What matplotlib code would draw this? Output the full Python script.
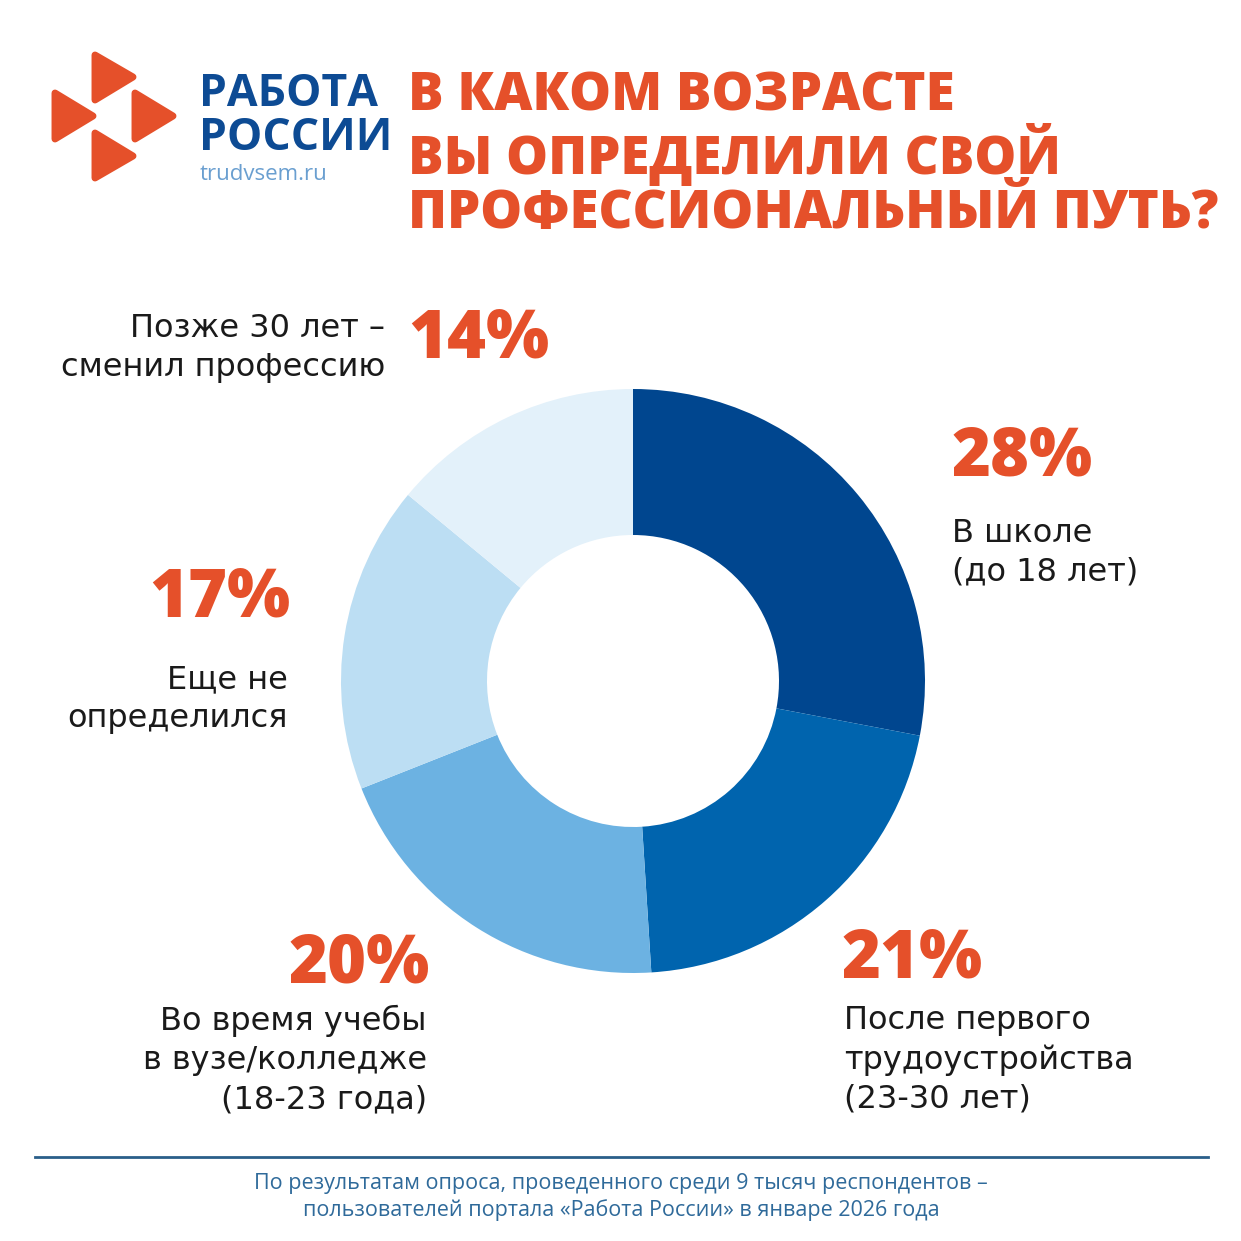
import matplotlib.pyplot as plt
from matplotlib.patches import Polygon

# data
labels = ["В школе\n(до 18 лет)",
          "После первого\nтрудоустройства\n(23-30 лет)",
          "Во время учебы\nв вузе/колледже\n(18-23 года)",
          "Еще не\nопределился",
          "Позже 30 лет –\nсменил профессию"]
shares = [28, 21, 20, 17, 14]
colors = ["#00468f", "#0064ae", "#6cb2e2", "#bcdef3", "#e3f1fa"]

title = "В КАКОМ ВОЗРАСТЕ\nВЫ ОПРЕДЕЛИЛИ СВОЙ\nПРОФЕССИОНАЛЬНЫЙ ПУТЬ?"
footer = ("По результатам опроса, проведенного среди 9 тысяч респондентов –\n"
          "пользователей портала «Работа России» в январе 2026 года")

ORANGE = "#e5502a"
BLUE = "#0d4b94"
H = 1241

def Y(v):
    return H - v

plt.rcParams['font.family'] = ['Open Sans', 'DejaVu Sans']

fig = plt.figure(figsize=(12.41, 12.41), dpi=100)
ax = fig.add_axes([0, 0, 1, 1])

ax.pie(shares, colors=colors, startangle=90, counterclock=False,
       center=(633, Y(681)), radius=292,
       wedgeprops=dict(width=146, edgecolor='none'))
ax.set_xlim(0, H)
ax.set_ylim(0, H)
ax.set_aspect('equal')
ax.axis('off')

# logo triangles
tris = [[(95, 55), (95, 100), (133, 77)],
        [(55, 93), (55, 139), (93, 116)],
        [(135, 93), (135, 139), (173, 116)],
        [(95, 133), (95, 178), (133, 156)]]
for t in tris:
    ax.add_patch(Polygon([(x, Y(y)) for x, y in t], closed=True,
                         facecolor=ORANGE, edgecolor=ORANGE, lw=5,
                         joinstyle='round'))

ax.text(199, Y(95), "РАБОТА", fontsize=32, fontweight='bold', color=BLUE,
        va='center', ha='left')
ax.text(199, Y(138), "РОССИИ", fontsize=32, fontweight='bold', color=BLUE,
        va='center', ha='left')
ax.text(200, Y(174), "trudvsem.ru", fontsize=16, color="#6a9fd0",
        va='center', ha='left')

# title, one block so the lines do not collide
ax.text(408, Y(228), title, fontsize=38, fontweight='heavy', color=ORANGE,
        va='baseline', ha='left', linespacing=1.02)

# percent labels and captions
pct_kw = dict(fontsize=48, fontweight='heavy', color=ORANGE, va='center')
lab_kw = dict(fontsize=23, color="#1a1a1a", va='top', linespacing=1.33,
              family=['DejaVu Sans'])

ax.text(952, Y(458), f"{shares[0]}%", ha='left', **pct_kw)
ax.text(952, Y(518), labels[0], ha='left', **lab_kw)

ax.text(842, Y(960), f"{shares[1]}%", ha='left', **pct_kw)
ax.text(844, Y(1005), labels[1], ha='left', **lab_kw)

ax.text(430, Y(965), f"{shares[2]}%", ha='right', **pct_kw)
ax.text(427, Y(1005), labels[2], ha='right', multialignment='right', **lab_kw)

ax.text(290, Y(599), f"{shares[3]}%", ha='right', **pct_kw)
ax.text(288, Y(664), labels[3], ha='right', multialignment='right', **lab_kw)

ax.text(408, Y(340), f"{shares[4]}%", ha='left', **pct_kw)
ax.text(385, Y(313), labels[4], ha='right', multialignment='right', **lab_kw)

# footer
ax.plot([35, 1208], [Y(1157), Y(1157)], color="#2a5f8a", lw=2)
ax.text(621, Y(1197), footer, fontsize=15.5, color="#2f6a9a", ha='center',
        va='center', linespacing=1.25)

fig.savefig("out.png", dpi=100)
